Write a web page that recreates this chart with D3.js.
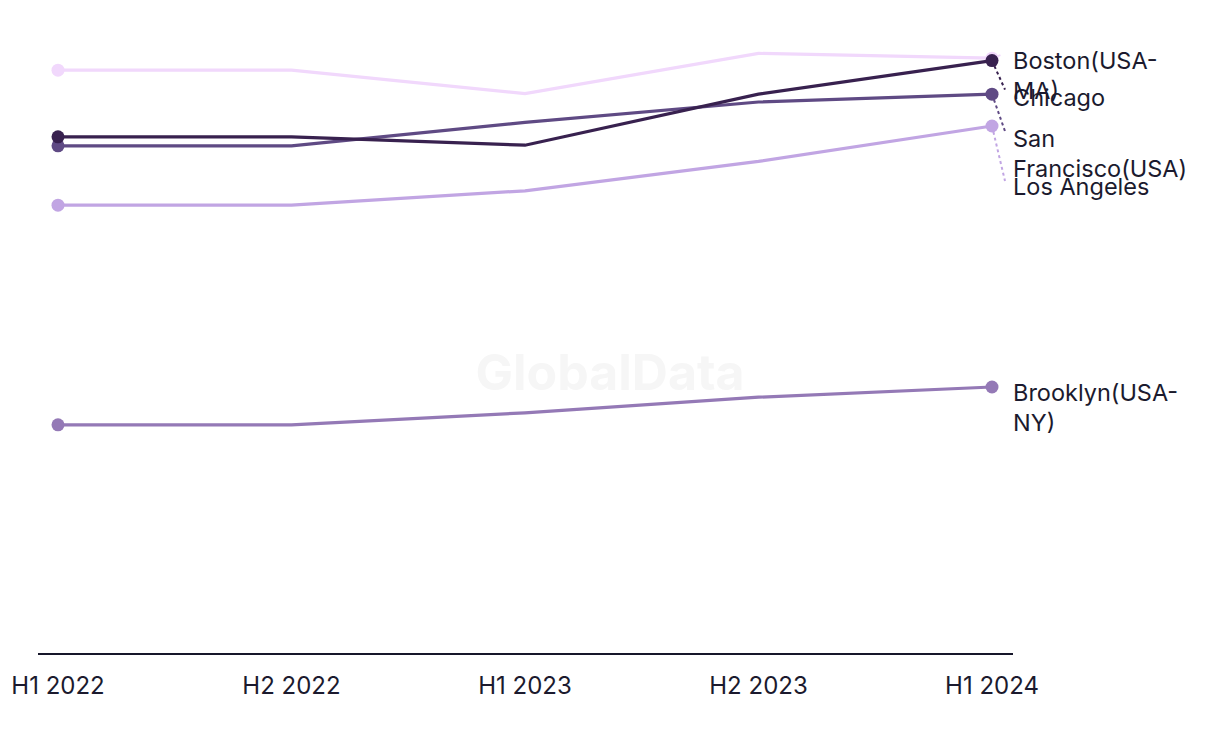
<!DOCTYPE html>
<html>
<head>
<meta charset="utf-8">
<script src="https://cdn.jsdelivr.net/npm/d3@7"></script>
<style>
  body { margin: 0; background: #fff; }
  svg { display: block; font-family: Inter, "Noto Sans", sans-serif; }
</style>
</head>
<body>
<div id="chart"></div>
<script>
// data ------------------------------------------------------------------------
const periods = ['H1 2022', 'H2 2022', 'H1 2023', 'H2 2023', 'H1 2024'];

const losAngeles    = [97.3, 97.3, 93.4, 100.1, 99.3];
const boston        = [86.2, 86.2, 84.8, 93.3, 98.9];
const chicago       = [84.7, 84.7, 88.6, 92.0, 93.3];
const sanFrancisco  = [74.8, 74.8, 77.2, 82.1, 88.0];
const brooklyn      = [38.2, 38.2, 40.2, 42.8, 44.5];

const seriesNames  = ['Los Angeles', 'Brooklyn(USA-NY)', 'San Francisco(USA)', 'Chicago', 'Boston(USA-MA)'];
const seriesValues = [losAngeles, brooklyn, sanFrancisco, chicago, boston];
const seriesColors = ['#f1d8fc', '#9479b6', '#c1a5e3', '#5f4a84', '#38214f'];

// label layout (pushed apart like the original) ---------------------------------
const labelLines = {
  'Boston(USA-MA)': ['Boston(USA-', 'MA)'],
  'Chicago': ['Chicago'],
  'San Francisco(USA)': ['San', 'Francisco(USA)'],
  'Los Angeles': ['Los Angeles'],
  'Brooklyn(USA-NY)': ['Brooklyn(USA-', 'NY)']
};
const labelShift = { 'Boston(USA-MA)': 0, 'Chicago': 4, 'San Francisco(USA)': 13, 'Los Angeles': 129, 'Brooklyn(USA-NY)': 6 };
const leaderEnd  = { 'Boston(USA-MA)': 29, 'Chicago': 37, 'San Francisco(USA)': 55, 'Los Angeles': -4, 'Brooklyn(USA-NY)': null };

// chart -----------------------------------------------------------------------
const width = 1220, height = 744;
const svg = d3.select('#chart').append('svg')
    .attr('width', width).attr('height', height);

const xScale = d3.scalePoint().domain(periods).range([58, 992]);
const yScale = d3.scaleLinear().domain([0, 100]).range([654, 54]);

// watermark
svg.append('text')
    .attr('x', 610).attr('y', 372)
    .attr('text-anchor', 'middle').attr('dy', '0.35em')
    .attr('font-size', 50).attr('font-weight', 700)
    .attr('fill', '#f6f6f6')
    .text('GlobalData');

// x axis
svg.append('line')
    .attr('x1', 38).attr('x2', 1013)
    .attr('y1', 654).attr('y2', 654)
    .attr('stroke', '#16162a').attr('stroke-width', 2);

svg.append('g').selectAll('text')
    .data(periods)
    .join('text')
    .attr('x', d => xScale(d))
    .attr('y', 686)
    .attr('dy', '0.35em')
    .attr('text-anchor', 'middle')
    .attr('font-size', 24)
    .attr('fill', '#1b1a2e')
    .text(d => d);

const series = seriesNames.map((name, i) => ({
  name, color: seriesColors[i],
  values: seriesValues[i].map((v, j) => ({ period: periods[j], value: v }))
}));

const line = d3.line()
    .x(d => xScale(d.period))
    .y(d => yScale(d.value));

// leader lines
series.forEach(s => {
  const off = leaderEnd[s.name];
  if (off === null) return;
  const last = s.values[s.values.length - 1];
  const y0 = yScale(last.value);
  svg.append('line')
      .attr('x1', xScale(last.period)).attr('y1', y0)
      .attr('x2', xScale(last.period) + (off < 0 ? 11 : 13)).attr('y2', y0 + off)
      .attr('stroke', s.color).attr('stroke-width', 2)
      .attr('stroke-dasharray', '3,3');
});

const g = svg.append('g').selectAll('g')
    .data(series)
    .join('g');

g.append('path')
    .attr('d', d => line(d.values))
    .attr('fill', 'none')
    .attr('stroke', d => d.color)
    .attr('stroke-width', 3.2);

g.selectAll('circle')
    .data(d => [d.values[0], d.values[d.values.length - 1]].map(v => ({ ...v, color: d.color })))
    .join('circle')
    .attr('cx', d => xScale(d.period))
    .attr('cy', d => yScale(d.value))
    .attr('r', 6.5)
    .attr('fill', d => d.color);

// end labels
series.forEach(s => {
  const last = s.values[s.values.length - 1];
  const y = yScale(last.value) + labelShift[s.name];
  const t = svg.append('text')
      .attr('x', 1013).attr('y', y)
      .attr('font-size', 23.5)
      .attr('fill', '#1b1a2e');
  labelLines[s.name].forEach((ln, i) => {
    t.append('tspan')
        .attr('x', 1013)
        .attr('dy', i === 0 ? '0.35em' : 30)
        .text(ln);
  });
});
</script>
</body>
</html>
